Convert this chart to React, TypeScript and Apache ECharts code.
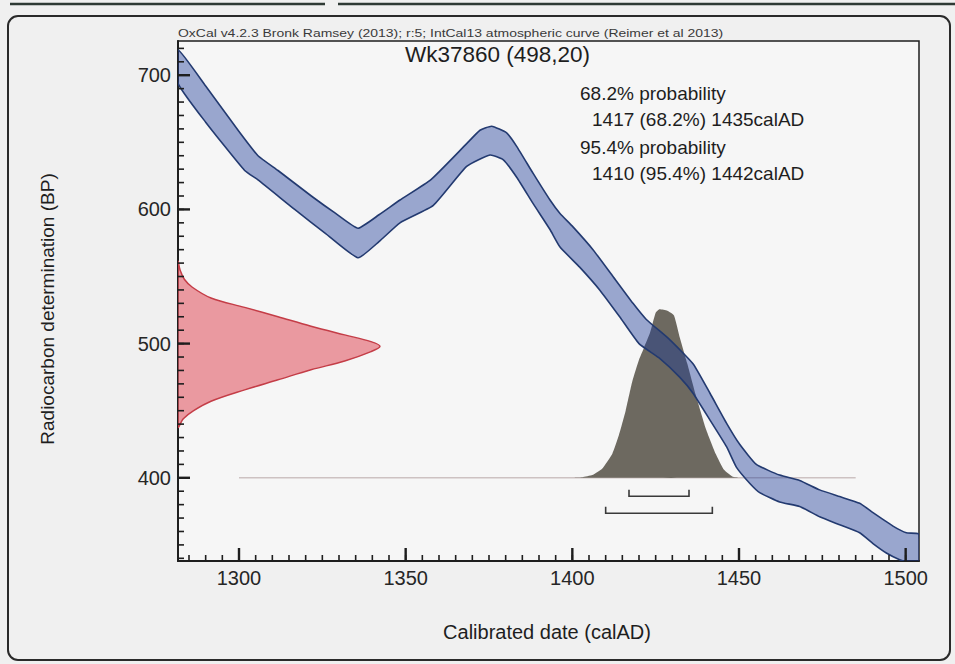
import React, { useEffect, useRef } from 'react';
import * as echarts from 'echarts';

// ---- axis extents & ticks ----
const X_MIN = 1281.7;
const X_MAX = 1504;
const Y_MIN = 338;
const Y_MAX = 725.5;
const xTicks = [1300, 1350, 1400, 1450, 1500];
const yTicks = [400, 500, 600, 700];
const xMinorTicks: number[] = [];
for (let v = 1285; v <= 1500; v += 5) xMinorTicks.push(v);
const yMinorTicks: number[] = [];
for (let v = 340; v <= 720; v += 10) yMinorTicks.push(v);

// ---- sample ----
const sampleName = 'Wk37860';
const sampleBP = 498;
const sampleErr = 20;
const range68 = [1417, 1435];
const range95 = [1410, 1442];
const baselineBP = 400;
const baselineRange = [1300, 1485];

// ---- IntCal13 band edges [calAD, BP] ----
const upperEdge: number[][] = [
  [1281.7, 719], [1290, 692], [1300, 658], [1305.7, 640], [1311.7, 629], [1321.7, 610],
  [1329, 597], [1335.7, 586], [1342, 596], [1348.3, 607], [1357.5, 622], [1368.3, 649],
  [1372.3, 659], [1375.8, 662], [1380.3, 657], [1383.3, 647], [1388.2, 627], [1393.3, 607],
  [1396.3, 597], [1400.2, 587], [1406.2, 570], [1412.2, 550], [1418.2, 530], [1422.2, 518],
  [1429.2, 503], [1436.2, 485], [1441.3, 463], [1446.2, 441], [1450.2, 425], [1455.2, 410],
  [1462.2, 402], [1468.2, 398], [1474.2, 391], [1480.2, 386], [1486.2, 381], [1490.2, 374],
  [1496.2, 364], [1500.2, 359], [1504, 358],
];
const lowerEdge: number[][] = [
  [1281.7, 694], [1290, 665], [1301.7, 629], [1305.7, 622], [1316.7, 600], [1326, 582],
  [1335.7, 564], [1342, 576], [1348.3, 590], [1358.3, 603], [1368.3, 632], [1375.3, 640.5],
  [1379.3, 637], [1383.3, 624], [1388.2, 604.5], [1393.3, 585], [1396.3, 572], [1402.2, 557],
  [1408.2, 540], [1414.2, 520], [1420, 500], [1426.2, 489], [1432.2, 475], [1436.2, 463],
  [1441.3, 443], [1446.3, 423], [1449.2, 408], [1453.2, 396], [1456.2, 389], [1462.2, 382],
  [1468.2, 378.6], [1474.2, 371], [1480.2, 365], [1486.2, 359], [1490.2, 351], [1494.2, 344],
  [1498.2, 339], [1504, 334],
];

// ---- calibrated probability (drawn above BP 400 baseline) ----
const calDist: number[][] = [
  [1399, 400], [1403, 400.5], [1406, 402], [1409, 407], [1412, 418], [1414, 432], [1416, 450],
  [1418, 472], [1420, 488], [1421.5, 497], [1423.3, 508], [1425, 523], [1426, 525.5],
  [1428.5, 524.5], [1430.5, 521], [1432.3, 504], [1434.5, 485], [1437, 462], [1440, 437],
  [1443, 418], [1445.5, 406], [1448, 401], [1450, 400],
];

// ---- measurement distribution (drawn from the y axis) ----
const redBP = [561, 555, 548, 542, 534, 527, 520, 513, 506.5, 501.5, 498, 494, 487, 480.5, 473, 465.5, 457, 450, 444, 438];
const redYear = [1281.7, 1282.3, 1283.6, 1286, 1291.6, 1301.7, 1311.7, 1321.6, 1331.7, 1339.6, 1342.3, 1339.6, 1331.7, 1321.6, 1311.7, 1301.7, 1291.6, 1286.4, 1283.3, 1281.7];

const FONT = '"Liberation Sans", Arial, Helvetica, sans-serif';
const INK = '#1e1e1e';

export default function App() {
  const ref = useRef<HTMLDivElement>(null);
  useEffect(() => {
    if (!ref.current) return;
    const chart = echarts.init(ref.current, null, { renderer: 'svg' });

    const polySeries = (pts: () => number[][], style: any, z: number, smooth = 0) => ({
      type: 'custom',
      coordinateSystem: 'cartesian2d',
      xAxisIndex: 0,
      yAxisIndex: 0,
      clip: true,
      silent: true,
      z,
      data: [[1400, 500]],
      renderItem: (_p: any, api: any) => ({
        type: 'polygon',
        shape: { points: pts().map((p) => api.coord(p)), smooth },
        style,
      }),
    });

    const fmt = (v: number) => String(v);

    const option: any = {
      animation: false,
      backgroundColor: '#f0f0f0',
      grid: {
        left: 178, right: 36, top: 41, bottom: 103,
        show: true, borderColor: INK, borderWidth: 1.5, backgroundColor: '#f6f6f6',
      },
      xAxis: [
        {
          type: 'value', min: X_MIN, max: X_MAX, position: 'bottom',
          axisLine: { show: true, onZero: false, lineStyle: { color: INK, width: 2 } },
          axisTick: { show: false },
          axisLabel: { show: true, customValues: xTicks, formatter: fmt, fontSize: 20, color: '#262626', margin: 7, fontFamily: FONT },
          splitLine: { show: false },
        },
      ],
      yAxis: [
        {
          type: 'value', min: Y_MIN, max: Y_MAX, position: 'left',
          axisLine: { show: true, onZero: false, lineStyle: { color: INK, width: 2 } },
          axisTick: { show: false },
          axisLabel: { show: true, customValues: yTicks, formatter: fmt, fontSize: 20, color: '#262626', margin: 7, fontFamily: FONT },
          splitLine: { show: false },
        },
      ],
      series: [
        // measurement (red)
        polySeries(
          () => redYear.map((yr, i) => [yr, redBP[i]]),
          { fill: 'rgba(226,96,106,0.62)', stroke: '#c43d47', lineWidth: 1.5 },
          2,
          0.35
        ),
        // baseline
        {
          type: 'custom', coordinateSystem: 'cartesian2d', silent: true, z: 2,
          data: [[baselineRange[0], baselineRange[1]]],
          renderItem: (_p: any, api: any) => {
            const a = api.coord([api.value(0), baselineBP]);
            const b = api.coord([api.value(1), baselineBP]);
            return { type: 'line', shape: { x1: a[0], y1: a[1], x2: b[0], y2: b[1] }, style: { stroke: '#cdc2c2', lineWidth: 1.6 } };
          },
        },
        // calibrated distribution
        polySeries(() => calDist, { fill: '#6d6960', stroke: 'none' }, 3, 0.15),
        // calibration curve band
        polySeries(
          () => upperEdge.concat(lowerEdge.slice().reverse()),
          { fill: 'rgba(24,56,150,0.42)', stroke: '#233a70', lineWidth: 1.6, lineJoin: 'round' },
          4,
          0.15
        ),
        // range brackets
        {
          type: 'custom', coordinateSystem: 'cartesian2d', silent: true, z: 5,
          data: [[range68[0], range68[1]], [range95[0], range95[1]]],
          renderItem: (p: any, api: any) => {
            const base = api.coord([api.value(0), baselineBP])[1];
            const y = base + 18.5 + p.dataIndex * 17;
            const x1 = api.coord([api.value(0), baselineBP])[0];
            const x2 = api.coord([api.value(1), baselineBP])[0];
            return {
              type: 'polyline',
              shape: { points: [[x1, y - 6.5], [x1, y], [x2, y], [x2, y - 6.5]] },
              style: { stroke: '#3a3a3a', lineWidth: 1.6, fill: 'none' },
            };
          },
        },
        // x-axis inside ticks (one rect per tick value, placed by the x scale)
        {
          type: 'custom', coordinateSystem: 'cartesian2d', silent: true, z: 20, clip: false,
          data: xMinorTicks.map((v) => [v, Y_MIN, 6, 1.6]).concat(xTicks.map((v) => [v, Y_MIN, 13, 2.4])),
          renderItem: (_p: any, api: any) => {
            const pt = api.coord([api.value(0), api.value(1)]);
            const len = api.value(2);
            const w = api.value(3);
            return { type: 'rect', shape: { x: pt[0] - w / 2, y: pt[1] - len, width: w, height: len }, style: { fill: INK } };
          },
        },
        // y-axis inside ticks
        {
          type: 'custom', coordinateSystem: 'cartesian2d', silent: true, z: 20, clip: false,
          data: yMinorTicks.map((v) => [X_MIN, v, 6, 1.6]).concat(yTicks.map((v) => [X_MIN, v, 12, 2.4])),
          renderItem: (_p: any, api: any) => {
            const pt = api.coord([api.value(0), api.value(1)]);
            const len = api.value(2);
            const w = api.value(3);
            return { type: 'rect', shape: { x: pt[0], y: pt[1] - w / 2, width: len, height: w }, style: { fill: INK } };
          },
        },
      ],
      graphic: [
        { type: 'line', shape: { x1: 10, y1: 4, x2: 325, y2: 4 }, style: { stroke: '#2f3a35', lineWidth: 2.5 } },
        { type: 'line', shape: { x1: 338, y1: 4, x2: 955, y2: 4 }, style: { stroke: '#2f3a35', lineWidth: 2.5 } },
        { type: 'rect', shape: { x: 8, y: 16, width: 942, height: 644, r: 10 }, style: { fill: 'none', stroke: '#2a2a2a', lineWidth: 2 }, z: -1 },
        {
          type: 'text', x: 178, y: 39, scaleX: 1.33,
          style: {
            text: 'OxCal v4.2.3 Bronk Ramsey (2013); r:5; IntCal13 atmospheric curve (Reimer et al 2013)',
            fontSize: 10.5, fontFamily: FONT, fill: '#3a3a3a', textVerticalAlign: 'bottom', textAlign: 'left',
          },
        },
        {
          type: 'text', x: 405, y: 54,
          style: { text: `${sampleName} (${sampleBP},${sampleErr})`, fontSize: 22.5, fontFamily: FONT, fill: '#1e1e1e', textVerticalAlign: 'middle' },
        },
        { type: 'text', x: 580, y: 93, style: { text: '68.2% probability', fontSize: 19, fontFamily: FONT, fill: '#1e1e1e', textVerticalAlign: 'middle' } },
        { type: 'text', x: 592, y: 119, style: { text: `${range68[0]} (68.2%) ${range68[1]}calAD`, fontSize: 19, fontFamily: FONT, fill: '#1e1e1e', textVerticalAlign: 'middle' } },
        { type: 'text', x: 580, y: 147, style: { text: '95.4% probability', fontSize: 19, fontFamily: FONT, fill: '#1e1e1e', textVerticalAlign: 'middle' } },
        { type: 'text', x: 592, y: 173, style: { text: `${range95[0]} (95.4%) ${range95[1]}calAD`, fontSize: 19, fontFamily: FONT, fill: '#1e1e1e', textVerticalAlign: 'middle' } },
        {
          type: 'text', x: 547, y: 632,
          style: { text: 'Calibrated date (calAD)', fontSize: 20, fontFamily: FONT, fill: '#1e1e1e', textAlign: 'center', textVerticalAlign: 'middle' },
        },
        {
          type: 'text', x: 47, y: 309, rotation: Math.PI / 2,
          style: { text: 'Radiocarbon determination (BP)', fontSize: 19, fontFamily: FONT, fill: '#1e1e1e', textAlign: 'center', textVerticalAlign: 'middle' },
        },
      ],
    };
    chart.setOption(option);
    return () => chart.dispose();
  }, []);
  return <div ref={ref} style={{ position: 'absolute', left: 0, top: 0, width: 955, height: 664 }} />;
}
